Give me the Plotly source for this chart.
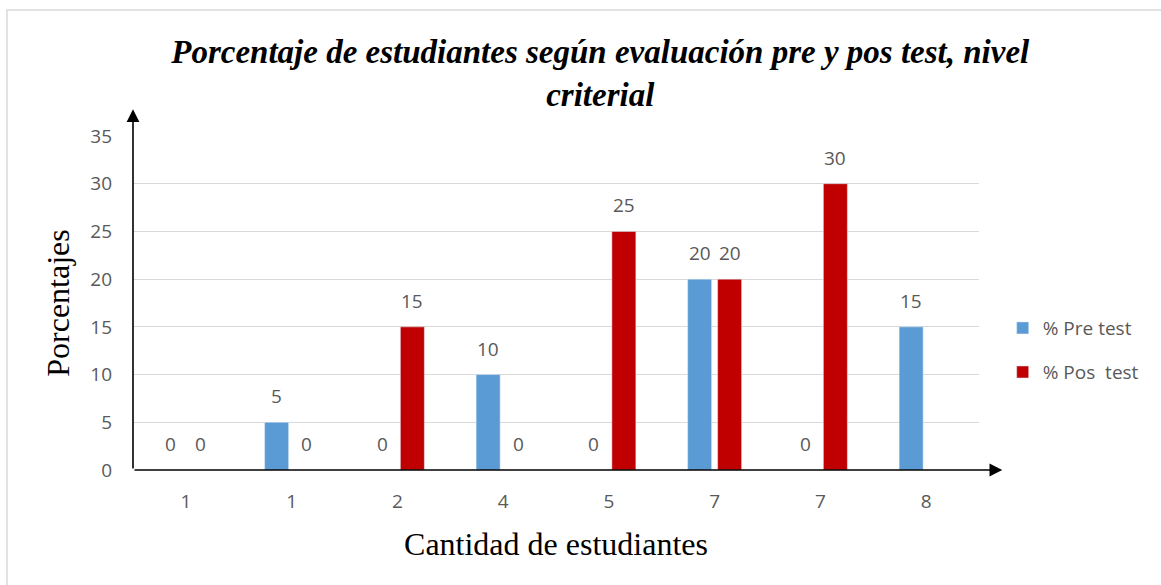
import plotly.graph_objects as go

categorias = ["1", "1", "2", "4", "5", "7", "7", "8"]
pre_test = [0, 5, 0, 10, 0, 20, 0, 15]
pos_test = [0, 0, 15, 0, 25, 20, 30, None]

titulo = "Porcentaje de estudiantes según evaluación pre y pos test, nivel<br>criterial"
eje_x = "Cantidad de estudiantes"
eje_y = "Porcentajes"

AZUL = "#5B9BD5"
ROJO = "#C00000"
GRIS = "#595959"
SANS = "Open Sans"
SERIF = "Liberation Serif"

pos = list(range(len(categorias)))

fig = go.Figure()
fig.add_trace(go.Bar(x=pos, y=pre_test, name="% Pre test", marker_color=AZUL, legend="legend"))
fig.add_trace(go.Bar(x=pos, y=pos_test, name="% Pos  test", marker_color=ROJO, legend="legend2"))

# data labels above each bar
for serie, dx in ((pre_test, -15), (pos_test, 15)):
    for i, v in zip(pos, serie):
        if v is None:
            continue
        fig.add_annotation(x=i, y=v, xref="x", yref="y", text=str(v), showarrow=False,
                           xshift=dx, yshift=11, yanchor="bottom",
                           font=dict(family=SANS, size=19, color=GRIS))

fig.update_layout(
    width=1161, height=585,
    margin=dict(l=133, r=182, t=136, b=115),
    paper_bgcolor="white", plot_bgcolor="white",
    barmode="group", bargap=0.433, bargroupgap=0.2,
    title=dict(text=titulo, xref="container", x=0.517, xanchor="center",
               yref="container", y=0.892, yanchor="top",
               font=dict(family=SERIF, size=33, color="black", weight="bold", style="italic")),
    legend=dict(x=1.028, y=0.425, xanchor="left", yanchor="middle",
                font=dict(family=SANS, size=19, color=GRIS), bgcolor="rgba(0,0,0,0)"),
    legend2=dict(x=1.028, y=0.293, xanchor="left", yanchor="middle",
                 font=dict(family=SANS, size=19, color=GRIS), bgcolor="rgba(0,0,0,0)"),
    xaxis=dict(range=[-0.5, 7.5], tickmode="array", tickvals=pos, ticktext=categorias,
               showgrid=False, zeroline=False, showline=False, ticks="",
               tickfont=dict(family=SANS, size=19, color=GRIS), ticklabelstandoff=18,
               title=dict(text=eje_x, font=dict(family=SERIF, size=32, color="black"), standoff=19)),
    yaxis=dict(range=[0, 35], dtick=5, showgrid=True, gridcolor="#D9D9D9", gridwidth=1,
               zeroline=False, showline=False, ticks="",
               tickfont=dict(family=SANS, size=19, color=GRIS), ticklabelstandoff=20,
               title=dict(text=eje_y, font=dict(family=SERIF, size=32, color="black"), standoff=11)),
    showlegend=True,
)

# axis arrows
fig.add_annotation(x=7.72, y=0, ax=-0.5, ay=0, xref="x", yref="y", axref="x", ayref="y",
                   showarrow=True, arrowhead=2, arrowsize=1.6, arrowwidth=1.6, arrowcolor="black", text="")
fig.add_annotation(x=-0.5, y=37.8, ax=-0.5, ay=0, xref="x", yref="y", axref="x", ayref="y",
                   showarrow=True, arrowhead=2, arrowsize=1.6, arrowwidth=1.6, arrowcolor="black", text="")

# chart border
fig.add_shape(type="rect", xref="paper", yref="paper", x0=-0.149, x1=1.5, y0=-1, y1=1.377,
              line=dict(color="#D9D9D9", width=1.5), fillcolor="rgba(0,0,0,0)", layer="below")

fig.write_html("out.html", config={"displayModeBar": False},
               post_script="document.body.style.margin='0';")
